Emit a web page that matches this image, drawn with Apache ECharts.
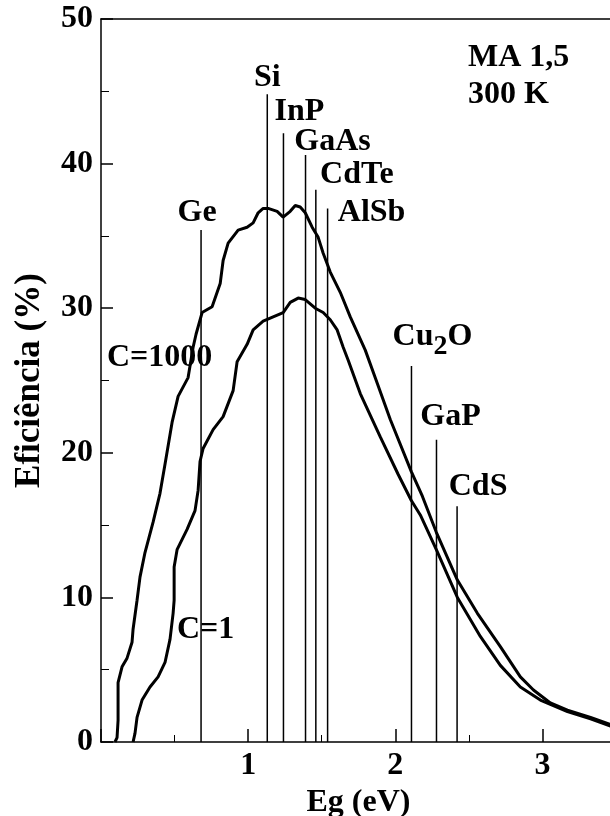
<!DOCTYPE html>
<html>
<head>
<meta charset="utf-8">
<script src="https://cdn.jsdelivr.net/npm/echarts@6/dist/echarts.min.js"></script>
<style>
  html, body { margin: 0; padding: 0; background: #fff; }
  #chart { width: 610px; height: 816px; }
</style>
</head>
<body>
<div id="chart"></div>
<script>
// eficiência limite x gap (MA 1,5, 300 K) - pontos [Eg, %]
var curveC1000 = [
  [0.095, 0], [0.109, 0.3], [0.116, 1.5], [0.116, 2.9], [0.116, 4.1], [0.143, 5.2],
  [0.177, 5.8], [0.211, 6.9], [0.218, 7.8], [0.245, 9.8], [0.265, 11.4], [0.299, 13.1],
  [0.354, 15.2], [0.401, 17.2], [0.435, 19.2], [0.483, 22.1], [0.524, 23.9], [0.592, 25.2],
  [0.626, 27.3], [0.646, 28.2], [0.687, 29.7], [0.755, 30.1], [0.810, 31.7], [0.830, 33.3],
  [0.864, 34.5], [0.932, 35.4], [0.993, 35.6], [1.034, 35.9], [1.068, 36.6], [1.102, 36.9],
  [1.136, 36.9], [1.197, 36.7], [1.238, 36.3], [1.286, 36.7], [1.320, 37.1], [1.354, 37.0],
  [1.388, 36.6], [1.435, 35.6], [1.476, 34.9], [1.510, 33.8], [1.558, 32.5], [1.626, 31.1],
  [1.694, 29.4], [1.796, 27.1], [1.878, 24.8], [1.966, 22.3], [2.109, 18.7], [2.184, 17.0],
  [2.279, 14.5], [2.422, 11.2], [2.558, 8.9], [2.714, 6.6], [2.850, 4.5], [2.939, 3.6],
  [3.054, 2.7], [3.170, 2.2], [3.327, 1.7], [3.463, 1.2]
];
var curveC1 = [
  [0.218, 0], [0.231, 0.6], [0.245, 1.7], [0.279, 2.9], [0.333, 3.8], [0.388, 4.5],
  [0.435, 5.5], [0.469, 7.1], [0.490, 8.9], [0.497, 9.8], [0.497, 12.1], [0.517, 13.3],
  [0.585, 14.7], [0.639, 16.0], [0.660, 17.4], [0.673, 19.4], [0.694, 20.3], [0.762, 21.6],
  [0.830, 22.5], [0.898, 24.3], [0.925, 26.3], [0.993, 27.5], [1.034, 28.5], [1.102, 29.1],
  [1.170, 29.4], [1.238, 29.7], [1.286, 30.4], [1.340, 30.7], [1.388, 30.6], [1.456, 30.0],
  [1.510, 29.7], [1.558, 29.2], [1.605, 28.5], [1.646, 27.3], [1.680, 26.4], [1.762, 24.1],
  [1.898, 21.1], [2.020, 18.5], [2.109, 16.7], [2.170, 15.7], [2.279, 13.3], [2.422, 10.0],
  [2.578, 7.3], [2.714, 5.3], [2.850, 3.8], [2.986, 2.9], [3.054, 2.6], [3.170, 2.1],
  [3.327, 1.6], [3.463, 1.1]
];

// materiais: gap (eV) e altura da linha vertical (%)
var materials = ['Ge', 'Si', 'InP', 'GaAs', 'CdTe', 'AlSb', 'Cu2O', 'GaP', 'CdS'];
var materialEg = [0.68, 1.13, 1.24, 1.39, 1.46, 1.54, 2.11, 2.28, 2.42];
var materialTop = [35.4, 44.8, 42.1, 40.6, 38.2, 36.9, 26.0, 20.9, 16.3];

// deslocamento do rótulo (px) em relação ao topo da linha
var labelShift = {
  Ge: [-4, -17], Si: [0, -16], InP: [16, -21], GaAs: [27, -13], CdTe: [41, -15],
  AlSb: [44, 4], Cu2O: [21, -29], GaP: [14, -23], CdS: [21, -20]
};

var FONT = 'Liberation Serif';
var chart = echarts.init(document.getElementById('chart'));

function renderMaterial(params, api) {
  var name = materials[params.dataIndex];
  var p0 = api.coord([api.value(0), 0]);
  var p1 = api.coord([api.value(0), api.value(1)]);
  var s = labelShift[name];
  return {
    type: 'group',
    children: [
      {
        type: 'line',
        shape: { x1: p0[0], y1: p0[1], x2: p1[0], y2: p1[1] },
        style: { stroke: '#000', lineWidth: 1.5 }
      },
      {
        type: 'text',
        x: p1[0] + s[0],
        y: p1[1] + s[1],
        style: {
          text: name == 'Cu2O' ? 'Cu{sub|2}O' : name,
          fontFamily: FONT, fontWeight: 'bold', fontSize: 32,
          fill: '#000', align: 'center', verticalAlign: 'middle',
          rich: {
            sub: { fontFamily: FONT, fontWeight: 'bold', fontSize: 28, verticalAlign: 'top', padding: [20, 0, 0, 0] }
          }
        }
      }
    ]
  };
}

var option = {
  animation: false,
  backgroundColor: '#fff',
  grid: { left: 101, right: -6, top: 19, bottom: 74, outerBoundsMode: 'none' },
  xAxis: [
    {
      type: 'value', min: 0, max: 3.5, interval: 1,
      name: 'Eg (eV)', nameLocation: 'middle', nameGap: 35,
      nameTextStyle: { fontFamily: FONT, fontWeight: 'bold', fontSize: 32, color: '#000' },
      axisLine: { lineStyle: { color: '#000', width: 1.5 } },
      axisTick: { inside: true, length: 13, lineStyle: { color: '#000', width: 1.5 } },
      minorTick: { show: true, splitNumber: 2, length: 7, lineStyle: { color: '#000' } },
      splitLine: { show: false },
      axisLabel: {
        fontFamily: FONT, fontWeight: 'bold', fontSize: 32, color: '#000', margin: 8,
        formatter: function (v) { return (v > 0 && v % 1 === 0) ? String(v) : ''; }
      }
    },
    {
      // moldura superior
      type: 'value', position: 'top', min: 0, max: 3.5,
      axisLine: { show: true, lineStyle: { color: '#000', width: 1.5 } },
      axisTick: { show: false }, axisLabel: { show: false }, splitLine: { show: false }
    }
  ],
  yAxis: {
    type: 'value', min: 0, max: 50, interval: 10,
    name: 'Eficiência (%)', nameLocation: 'middle', nameGap: 54,
    nameTextStyle: { fontFamily: FONT, fontWeight: 'bold', fontSize: 35, color: '#000' },
    axisLine: { lineStyle: { color: '#000', width: 1.5 } },
    axisTick: { inside: true, length: 12, lineStyle: { color: '#000', width: 1.5 } },
    minorTick: { show: true, splitNumber: 2, length: 8, lineStyle: { color: '#000' } },
    splitLine: { show: false },
    axisLabel: { fontFamily: FONT, fontWeight: 'bold', fontSize: 32, color: '#000', margin: 8 }
  },
  graphic: [
    { type: 'text', x: 468, y: 58, style: { text: 'MA 1,5', fontFamily: FONT, fontWeight: 'bold', fontSize: 32, fill: '#000', verticalAlign: 'middle' } },
    { type: 'text', x: 468, y: 95, style: { text: '300 K', fontFamily: FONT, fontWeight: 'bold', fontSize: 32, fill: '#000', verticalAlign: 'middle' } },
    { type: 'text', x: 107, y: 358, style: { text: 'C=1000', fontFamily: FONT, fontWeight: 'bold', fontSize: 32, fill: '#000', verticalAlign: 'middle' } },
    { type: 'text', x: 177, y: 630, style: { text: 'C=1', fontFamily: FONT, fontWeight: 'bold', fontSize: 32, fill: '#000', verticalAlign: 'middle' } }
  ],
  series: [
    {
      name: 'C=1000', type: 'line', data: curveC1000, symbol: 'none',
      lineStyle: { color: '#000', width: 3 }
    },
    {
      name: 'C=1', type: 'line', data: curveC1, symbol: 'none',
      lineStyle: { color: '#000', width: 3 }
    },
    {
      type: 'custom',
      renderItem: renderMaterial,
      data: materialEg.map(function (eg, i) { return [eg, materialTop[i]]; }),
      encode: { x: 0, y: 1 }
    }
  ]
};

chart.setOption(option);
</script>
</body>
</html>
